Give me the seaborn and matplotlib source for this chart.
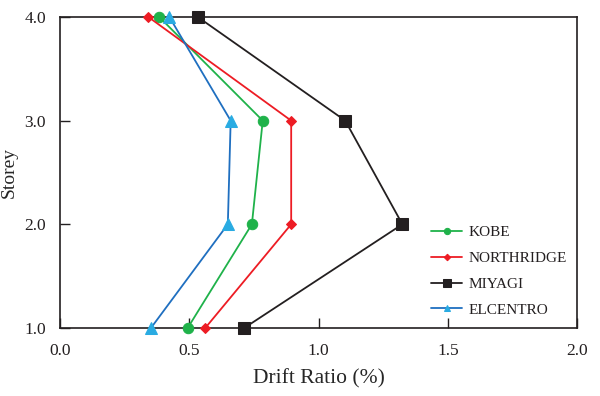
import matplotlib
matplotlib.use("Agg")
import matplotlib.pyplot as plt
import seaborn as sns
import pandas as pd

# storey levels and drift ratios (%)
storeys = [1.0, 2.0, 3.0, 4.0]
kobe = [0.494, 0.742, 0.784, 0.384]
northridge = [0.562, 0.894, 0.894, 0.342]
miyagi = [0.713, 1.324, 1.103, 0.533]
elcentro = [0.352, 0.649, 0.660, 0.423]

x_ticks = [0.0, 0.5, 1.0, 1.5, 2.0]
y_ticks = [1.0, 2.0, 3.0, 4.0]

series = {
    "KOBE": kobe,
    "NORTHRIDGE": northridge,
    "MIYAGI": miyagi,
    "ELCENTRO": elcentro,
}

# line colour, marker, marker size, marker colour
styles = {
    "KOBE": ("#1fb24a", "o", 7.5, "#1fb24a"),
    "NORTHRIDGE": ("#ed1c24", "D", 5.5, "#ed1c24"),
    "MIYAGI": ("#231f20", "s", 8.5, "#231f20"),
    "ELCENTRO": ("#1f6fc0", "^", 8, "#29abe2"),
}

rows = []
for name, vals in series.items():
    for s, v in zip(storeys, vals):
        rows.append({"quake": name, "storey": s, "drift": v})
df = pd.DataFrame(rows)

sns.set_style("white")
plt.rcParams["font.family"] = ["Liberation Serif", "DejaVu Serif"]

fig = plt.figure(figsize=(6.0, 3.96), dpi=100)
ax = fig.add_axes([0.1, 0.172, 0.862, 0.785])

for name in series:
    color, marker, ms, mcolor = styles[name]
    sns.lineplot(
        data=df[df["quake"] == name], x="drift", y="storey",
        estimator=None, sort=False, ax=ax, label=name,
        color=color, linewidth=1.3, marker=marker, markersize=ms,
        markerfacecolor=mcolor, markeredgecolor=mcolor,
        clip_on=False, zorder=3,
    )

ax.set_xlim(0, 2.0)
ax.set_ylim(1.0, 4.0)
ax.set_xticks(x_ticks)
ax.set_yticks(y_ticks)
ax.set_xticklabels([f"{t:.1f}" for t in x_ticks])
ax.set_yticklabels([f"{t:.1f}" for t in y_ticks])
ax.tick_params(bottom=True, left=True, direction="in", length=7, width=1,
               color="#231f20", labelcolor="#231f20", labelsize=12.5)
ax.tick_params(axis="x", pad=11)
ax.tick_params(axis="y", pad=10)
for sp in ax.spines.values():
    sp.set_color("#231f20")
    sp.set_linewidth(1.2)

ax.set_xlabel("Drift Ratio (%)", fontsize=15.5, labelpad=7)
ax.set_ylabel("Storey", fontsize=14)
ax.yaxis.set_label_coords(-0.082, 0.5)

leg = ax.legend(loc="lower left", frameon=False, fontsize=11,
                markerscale=0.6, handlelength=2.0, handletextpad=0.45,
                labelspacing=0.8, borderaxespad=0,
                bbox_to_anchor=(0.706, 0.016))
for t in leg.get_texts():
    t.set_color("#231f20")

fig.savefig("out.png", dpi=100)
